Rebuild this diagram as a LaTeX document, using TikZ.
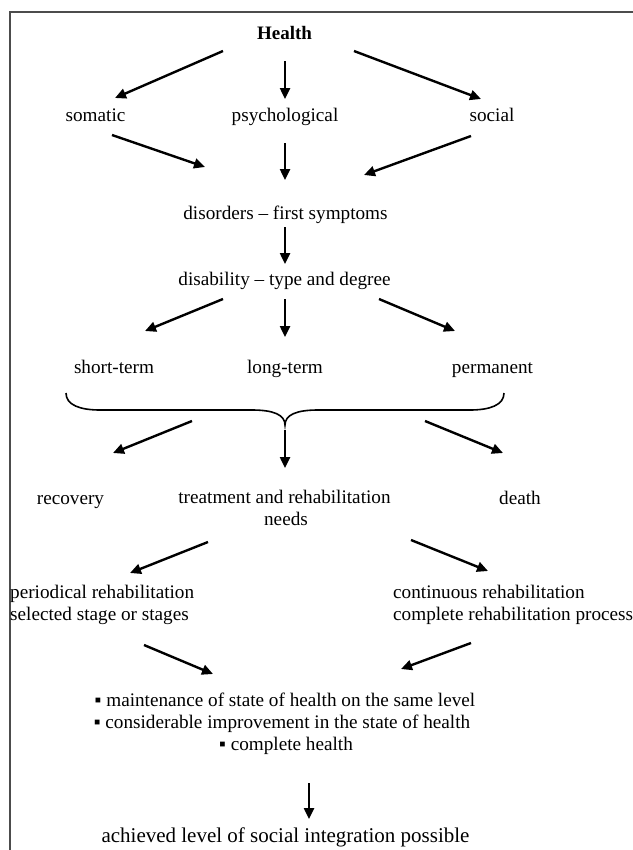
\documentclass[tikz,border=0pt]{standalone}
\usepackage{fontspec}
\setmainfont{Liberation Serif}
\usetikzlibrary{arrows.meta}
\begin{document}
\begin{tikzpicture}[x=1bp,y=-1bp,
  txt/.style={inner sep=0pt,anchor=base,font=\fontsize{19.2bp}{22bp}\selectfont},
  ltxt/.style={txt,anchor=base west},
  big/.style={txt,font=\fontsize{21bp}{24bp}\selectfont},
  arr/.style={line width=2.4bp,-{Triangle[length=11bp,width=10bp]}},
  frame/.style={line width=1.2bp,draw=black!70}]
\useasboundingbox (0,0) rectangle (633,850);
\draw[frame] (10,850) -- (10,12) -- (633,12);
% text nodes
\node[txt,font=\fontsize{19bp}{22bp}\selectfont\bfseries] (health) at (284.5,39) {Health};
\node[txt] (somatic) at (95.5,121) {somatic};
\node[txt] (psych) at (285,121) {psychological};
\node[txt] (social) at (492,121) {social};
\node[txt] (disorders) at (285.5,219) {disorders – first symptoms};
\node[txt] (disability) at (284.5,285) {disability – type and degree};
\node[txt] (short) at (114,373) {short-term};
\node[txt] (long) at (285,373) {long-term};
\node[txt] (perm) at (492.5,373) {permanent};
\node[txt] (recovery) at (70.5,504) {recovery};
\node[txt] (treat) at (284.5,503) {treatment and rehabilitation};
\node[txt] (needs) at (286,525) {needs};
\node[txt] (death) at (520,504) {death};
\node[ltxt] (periodical) at (10,598) {periodical rehabilitation};
\node[ltxt] (selected) at (10,620) {selected stage or stages};
\node[ltxt] (continuous) at (393,598) {continuous rehabilitation};
\node[ltxt] (complete) at (393,620) {complete rehabilitation process};
\node[txt] (b1) at (285,706) {▪ maintenance of state of health on the same level};
\node[txt] (b2) at (282,728) {▪ considerable improvement in the state of health};
\node[txt] (b3) at (286,750) {▪ complete health};
\node[big] (achieved) at (285.5,842) {achieved level of social integration possible};
% brace
\draw[line width=1.6bp] (66,393) .. controls (66,405) and (80,410) .. (100,410)
  -- (252,410) .. controls (274,410) and (285,415) .. (285,425)
  .. controls (285,415) and (296,410) .. (318,410)
  -- (470,410) .. controls (490,410) and (504,405) .. (504,393);
\coordinate (brace) at (285,425);
% arrow end points
\coordinate (a1s) at (223,51);  \coordinate (a1e) at (115,98);
\coordinate (a2s) at (285,61);  \coordinate (a2e) at (285,99);
\coordinate (a3s) at (354,51);  \coordinate (a3e) at (481,99);
\coordinate (a4s) at (112,135); \coordinate (a4e) at (205,167);
\coordinate (a5s) at (285,143); \coordinate (a5e) at (285,180);
\coordinate (a6s) at (471,136); \coordinate (a6e) at (364,175);
\coordinate (a7s) at (285,227); \coordinate (a7e) at (285,264);
\coordinate (a8s) at (223,299); \coordinate (a8e) at (145,331);
\coordinate (a9s) at (285,299); \coordinate (a9e) at (285,337);
\coordinate (a10s) at (379,299); \coordinate (a10e) at (455,331);
\coordinate (a11s) at (192,421); \coordinate (a11e) at (113,453);
\coordinate (a12s) at (285,430); \coordinate (a12e) at (285,468);
\coordinate (a13s) at (425,421); \coordinate (a13e) at (503,453);
\coordinate (a14s) at (208,542); \coordinate (a14e) at (130,573);
\coordinate (a15s) at (411,540); \coordinate (a15e) at (488,571);
\coordinate (a16s) at (144,645); \coordinate (a16e) at (213,674);
\coordinate (a17s) at (471,643); \coordinate (a17e) at (401,669);
\coordinate (a18s) at (309,783); \coordinate (a18e) at (309,819);
\foreach \i in {1,...,18} {\draw[arr] (a\i s) -- (a\i e);}
\end{tikzpicture}
\end{document}
